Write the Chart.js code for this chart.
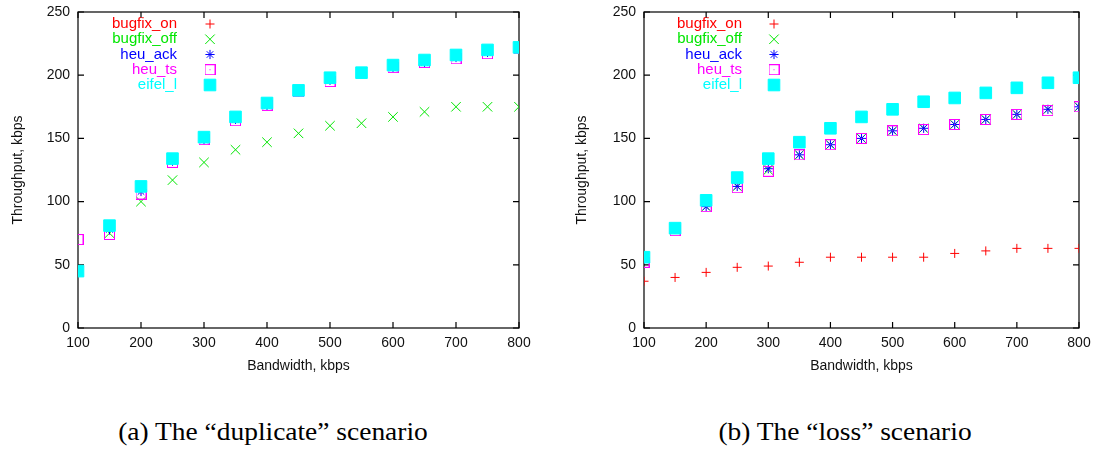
<!DOCTYPE html>
<html lang="en">
<head>
    <meta charset="UTF-8">
    <title>Throughput vs bandwidth</title>
    <script src="https://cdn.jsdelivr.net/npm/chart.js@4/dist/chart.umd.min.js"></script>
    <style>
        body { margin: 0; background: #fff; width: 1104px; height: 449px; position: relative; overflow: hidden; }
        .box { position: absolute; top: 0; }
        .caption {
            position: absolute; top: 420px; width: 400px; text-align: center;
            font-family: "Liberation Serif", "DejaVu Serif", serif; font-size: 24.5px; line-height: 24px;
            color: #000; transform: scaleX(1.12); transform-origin: center;
        }
    </style>
</head>
<body>

    <div class="box" style="left:0"><canvas id="dupChart" width="552" height="380"></canvas></div>
    <div class="box" style="left:552px"><canvas id="lossChart" width="552" height="380"></canvas></div>
    <div class="caption" style="left:73px">(a) The “duplicate” scenario</div>
    <div class="caption" style="left:645px">(b) The “loss” scenario</div>

    <script>
        // x values (kbps)
        var bandwidth = [100, 150, 200, 250, 300, 350, 400, 450, 500, 550, 600, 650, 700, 750, 800];
        var seriesNames = ['bugfix_on', 'bugfix_off', 'heu_ack', 'heu_ts', 'eifel_l'];
        var xTicks = [100, 200, 300, 400, 500, 600, 700, 800];
        var yTicks = [0, 50, 100, 150, 200, 250];

        // (a) duplicate scenario
        var dupBugfixOn  = [45, 80, 110, 133, 150, 166, 177, 188, 197, 202, 207, 211, 215, 219, 221];
        var dupBugfixOff = [45, 75, 100, 117, 131, 141, 147, 154, 160, 162, 167, 171, 175, 175, 175];
        var dupHeuAck    = [45, 78, 108, 132, 149, 165, 176, 187, 196, 202, 206, 210, 214, 218, 221];
        var dupHeuTs     = [70, 74, 106, 131, 149, 164, 176, 187, 195, 202, 206, 210, 213, 217, 221];
        var dupEifel     = [45, 81, 112, 134, 151, 167, 178, 188, 198, 202, 208, 212, 216, 220, 222];

        // (b) loss scenario
        var lossBugfixOn  = [37, 40, 44, 48, 49, 52, 56, 56, 56, 56, 59, 61, 63, 63, 63];
        var lossBugfixOff = [55, 78, 96, 112, 125, 137, 145, 150, 156, 158, 161, 165, 169, 173, 175];
        var lossHeuAck    = [55, 78, 96, 112, 126, 137, 145, 150, 156, 158, 161, 165, 169, 173, 175];
        var lossHeuTs     = [52, 77, 96, 111, 124, 137, 145, 150, 156, 157, 161, 165, 169, 172, 175];
        var lossEifel     = [56, 79, 101, 119, 134, 147, 158, 167, 173, 179, 182, 186, 190, 194, 198];

        var colors = ['#ff0000', '#00e600', '#0000ff', '#ff00ff', '#00ffff'];
        var sansFont = "'Liberation Sans', Arial, sans-serif";

        // hollow box with a dot in the middle
        var dotBox = document.createElement('canvas');
        dotBox.width = 11;
        dotBox.height = 11;
        (function () {
            var c = dotBox.getContext('2d');
            c.strokeStyle = colors[3];
            c.lineWidth = 1;
            c.strokeRect(0.5, 0.5, 10, 10);
            c.fillStyle = colors[3];
            c.fillRect(5, 5, 1, 1);
        })();

        var markers = [
            { pointStyle: 'cross', radius: 4.5 },
            { pointStyle: 'crossRot', radius: 6.7 },
            { pointStyle: 'star', radius: 4.6 },
            { pointStyle: dotBox, radius: 6 },
            { pointStyle: 'rect', radius: 8.2 }
        ];

        function makeData(lists) {
            return {
                datasets: lists.map(function (vals, i) {
                    return {
                        label: seriesNames[i],
                        data: vals.map(function (v, j) { return { x: bandwidth[j], y: v }; }),
                        showLine: false,
                        pointStyle: markers[i].pointStyle,
                        pointRadius: markers[i].radius,
                        pointBorderWidth: 1,
                        borderColor: colors[i],
                        backgroundColor: colors[i],
                        pointBorderColor: colors[i],
                        pointBackgroundColor: colors[i],
                        order: 5 - i
                    };
                })
            };
        }

        // border box, inward ticks and gnuplot style key
        var gnuplotFrame = {
            id: 'gpFrame',
            beforeDatasetsDraw: function (chart) {
                var ctx = chart.ctx;
                var a = chart.chartArea;
                var xs = chart.scales.x, ys = chart.scales.y;
                ctx.save();
                ctx.strokeStyle = '#000';
                ctx.lineWidth = 1.2;
                ctx.strokeRect(a.left, a.top, a.right - a.left, a.bottom - a.top);
                ctx.beginPath();
                xTicks.forEach(function (t) {
                    var px = xs.getPixelForValue(t);
                    ctx.moveTo(px, a.bottom); ctx.lineTo(px, a.bottom - 6);
                    ctx.moveTo(px, a.top); ctx.lineTo(px, a.top + 6);
                });
                yTicks.forEach(function (t) {
                    var py = ys.getPixelForValue(t);
                    ctx.moveTo(a.left, py); ctx.lineTo(a.left + 6, py);
                    ctx.moveTo(a.right, py); ctx.lineTo(a.right - 6, py);
                });
                ctx.stroke();
                ctx.restore();
            },
            afterDraw: function (chart, args, opts) {
                var ctx = chart.ctx;
                ctx.save();
                ctx.font = '15px ' + sansFont;
                ctx.textAlign = 'right';
                ctx.textBaseline = 'middle';
                chart.data.datasets.forEach(function (ds, i) {
                    var y = 24 + i * 15.25;
                    ctx.fillStyle = ds.pointBorderColor;
                    ctx.fillText(ds.label, opts.textRight, y);
                    ctx.strokeStyle = ds.pointBorderColor;
                    ctx.fillStyle = ds.pointBackgroundColor;
                    ctx.lineWidth = 1;
                    Chart.helpers.drawPoint(ctx, {
                        pointStyle: ds.pointStyle,
                        radius: ds.pointRadius,
                        rotation: 0,
                        borderWidth: 1
                    }, opts.markX, y);
                });
                ctx.restore();
            }
        };

        function createChart(id, lists, yWidth, padRight, yTitlePad, legend) {
            var ctx = document.getElementById(id).getContext('2d');
            return new Chart(ctx, {
                type: 'scatter',
                data: makeData(lists),
                plugins: [gnuplotFrame],
                options: {
                    responsive: false,
                    animation: false,
                    layout: { padding: { top: 12, right: padRight, left: 0, bottom: 0 } },
                    plugins: {
                        legend: { display: false },
                        tooltip: { enabled: false },
                        gpFrame: legend
                    },
                    scales: {
                        x: {
                            type: 'linear',
                            min: 100,
                            max: 800,
                            afterBuildTicks: function (s) { s.ticks = xTicks.map(function (v) { return { value: v }; }); },
                            afterFit: function (s) { s.height = 52; },
                            grid: { display: false, drawTicks: false },
                            border: { display: false },
                            ticks: { color: '#111', font: { size: 14, family: sansFont }, padding: 7, maxRotation: 0 },
                            title: {
                                display: true, text: 'Bandwidth, kbps', color: '#111',
                                font: { size: 14, family: sansFont }, padding: { top: 0, bottom: 5 }
                            }
                        },
                        y: {
                            min: 0,
                            max: 250,
                            afterBuildTicks: function (s) { s.ticks = yTicks.map(function (v) { return { value: v }; }); },
                            afterFit: function (s) { s.width = yWidth; s.paddingTop = 0; s.paddingBottom = 0; },
                            grid: { display: false, drawTicks: false },
                            border: { display: false },
                            ticks: { color: '#111', font: { size: 14, family: sansFont }, padding: 8 },
                            title: {
                                display: true, text: 'Throughput, kbps', color: '#111',
                                font: { size: 14, family: sansFont }, padding: { top: yTitlePad, bottom: 0 }
                            }
                        }
                    }
                }
            });
        }

        createChart('dupChart', [dupBugfixOn, dupBugfixOff, dupHeuAck, dupHeuTs, dupEifel], 78, 33, 10,
            { textRight: 177, markX: 210 });
        createChart('lossChart', [lossBugfixOn, lossBugfixOff, lossHeuAck, lossHeuTs, lossEifel], 92, 25, 22,
            { textRight: 190, markX: 222 });
    </script>

</body>
</html>
